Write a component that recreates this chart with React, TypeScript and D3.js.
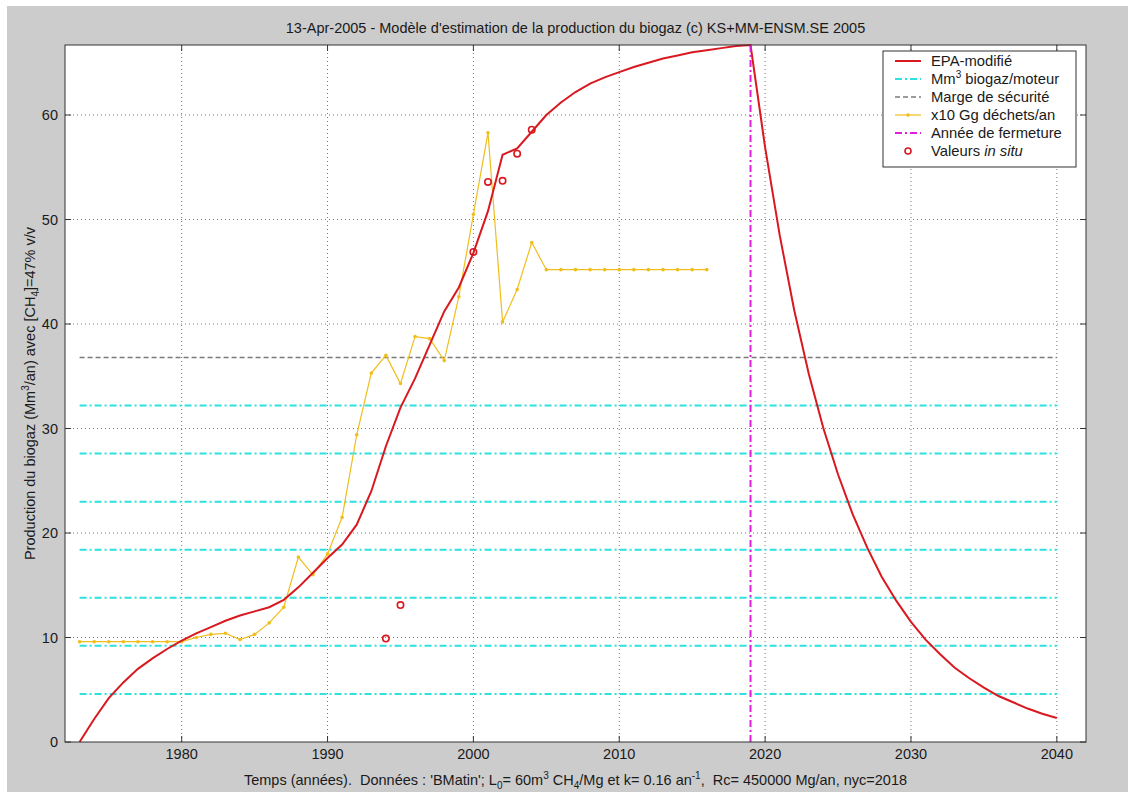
import React from "react";
import * as d3 from "d3";

const years = d3.range(1973, 2041);
const epaValues = [
  0, 2.2, 4.2, 5.7, 7.0, 8.0, 8.9, 9.7, 10.4, 11.0, 11.6, 12.1, 12.5, 12.9, 13.6, 14.8, 16.2, 17.6,
  18.9, 20.8, 24.0, 28.3, 32.0, 34.8, 38.0, 41.2, 43.5, 46.8, 50.8, 56.2, 56.8, 58.4, 60.0, 61.2,
  62.2, 63.0, 63.6, 64.1, 64.6, 65.0, 65.4, 65.7, 66.0, 66.2, 66.4, 66.6, 66.7, 56.9, 48.5, 41.3,
  35.2, 30.0, 25.6, 21.8, 18.6, 15.8, 13.5, 11.5, 9.8, 8.4, 7.1, 6.1, 5.2, 4.4, 3.8, 3.2, 2.7, 2.3,
];

const wasteYears = d3.range(1973, 2017);
const wasteValues = [
  9.6, 9.6, 9.6, 9.6, 9.6, 9.6, 9.6, 9.6, 10.0, 10.3, 10.4, 9.8, 10.3, 11.4, 12.9, 17.7, 16.0, 18.0,
  21.5, 29.4, 35.3, 37.0, 34.3, 38.8, 38.6, 36.5, 42.6, 50.5, 58.3, 40.2, 43.3, 47.8, 45.2, 45.2,
  45.2, 45.2, 45.2, 45.2, 45.2, 45.2, 45.2, 45.2, 45.2, 45.2,
];

const engineLevels = [4.6, 9.2, 13.8, 18.4, 23.0, 27.6, 32.2];
const safetyMargin = 36.8;
const closureYear = 2019;

const insituYears = [1994, 1995, 2000, 2001, 2002, 2003, 2004];
const insituValues = [9.9, 13.1, 46.9, 53.6, 53.7, 56.3, 58.6];

const xTicks = [1980, 1990, 2000, 2010, 2020, 2030, 2040];
const yTicks = [0, 10, 20, 30, 40, 50, 60];

const FONT = "'Liberation Sans', Arial, Helvetica, sans-serif";

export default function App() {
  const L = 65, R = 1086, T = 45, B = 742;
  const x = d3.scaleLinear().domain([1972, 2042]).range([L, R]);
  const y = d3.scaleLinear().domain([0, 66.7]).range([B, T]);

  const epaLine = d3.line<number>().x((_, i) => x(years[i])).y((d) => y(d))(epaValues) || "";
  const wasteLine = d3.line<number>().x((_, i) => x(wasteYears[i])).y((d) => y(d))(wasteValues) || "";

  const red = "#d9181f";
  const cyan = "#2ee0e0";
  const yellow = "#f0be1c";
  const magenta = "#e020d8";
  const grayDash = "#7a7a7a";

  const lx = 883, ly = 51, lw = 193, lh = 116;
  const rowY = [61, 79, 97, 115, 133, 151];
  const sx1 = 895, sx2 = 921, tx = 931;
  const FS = 14.5;
  const SUB = 10;

  return (
    <svg
      width={1134}
      height={792}
      style={{ position: "absolute", left: 0, top: 0, fontFamily: FONT }}
    >
      <rect x={0} y={0} width={1134} height={792} fill="#ffffff" />
      <rect x={7} y={6} width={1121} height={786} fill="#cccccc" />
      <rect x={L} y={T} width={R - L} height={B - T} fill="#ffffff" />

      {/* grid */}
      {xTicks.map((t) => (
        <line key={"gx" + t} x1={x(t)} x2={x(t)} y1={T} y2={B} stroke="#777777" strokeWidth={1} strokeDasharray="1,3" />
      ))}
      {yTicks.filter((t) => t > 0).map((t) => (
        <line key={"gy" + t} x1={L} x2={R} y1={y(t)} y2={y(t)} stroke="#777777" strokeWidth={1} strokeDasharray="1,3" />
      ))}

      {/* engine capacity lines */}
      {engineLevels.map((v) => (
        <line key={"c" + v} x1={x(1973)} x2={x(2040)} y1={y(v)} y2={y(v)} stroke={cyan} strokeWidth={2} strokeDasharray="7,3,2,3" />
      ))}
      {/* safety margin */}
      <line x1={x(1973)} x2={x(2040)} y1={y(safetyMargin)} y2={y(safetyMargin)} stroke={grayDash} strokeWidth={1.5} strokeDasharray="5,3" />

      {/* waste */}
      <path d={wasteLine} fill="none" stroke={yellow} strokeWidth={1.2} />
      {wasteValues.map((v, i) => (
        <circle key={"w" + i} cx={x(wasteYears[i])} cy={y(v)} r={1.8} fill={yellow} />
      ))}

      {/* EPA curve */}
      <path d={epaLine} fill="none" stroke={red} strokeWidth={2} />

      {/* closure */}
      <line x1={x(closureYear)} x2={x(closureYear)} y1={y(0)} y2={y(66.7)} stroke={magenta} strokeWidth={2} strokeDasharray="7,3,2,3" />

      {/* in situ */}
      {insituValues.map((v, i) => (
        <circle key={"s" + i} cx={x(insituYears[i])} cy={y(v)} r={3.2} fill="none" stroke={red} strokeWidth={1.6} />
      ))}

      {/* axes box */}
      <rect x={L} y={T} width={R - L} height={B - T} fill="none" stroke="#333333" strokeWidth={1} />
      {xTicks.map((t) => (
        <g key={"tx" + t}>
          <line x1={x(t)} x2={x(t)} y1={B} y2={B - 6} stroke="#333" />
          <line x1={x(t)} x2={x(t)} y1={T} y2={T + 6} stroke="#333" />
          <text x={x(t)} y={759} fontSize={FS} textAnchor="middle" fill="#1a1a1a">{t}</text>
        </g>
      ))}
      {yTicks.map((t) => (
        <g key={"ty" + t}>
          <line x1={L} x2={L + 6} y1={y(t)} y2={y(t)} stroke="#333" />
          <line x1={R} x2={R - 6} y1={y(t)} y2={y(t)} stroke="#333" />
          <text x={58} y={y(t) + 5} fontSize={FS} textAnchor="end" fill="#1a1a1a">{t}</text>
        </g>
      ))}

      {/* title */}
      <text x={(L + R) / 2} y={33} fontSize={FS} textAnchor="middle" fill="#1a1a1a">
        13-Apr-2005 - Modèle d'estimation de la production du biogaz (c) KS+MM-ENSM.SE 2005
      </text>

      {/* x label */}
      <text x={(L + R) / 2} y={785} fontSize={FS} textAnchor="middle" fill="#1a1a1a" xmlSpace="preserve" style={{ whiteSpace: "pre" }}>
        {"Temps (années).  Données : 'BMatin'; L"}<tspan fontSize={SUB} dy={4}>0</tspan><tspan dy={-4}>= 60m</tspan><tspan fontSize={SUB} dy={-6}>3</tspan><tspan dy={6}> CH</tspan><tspan fontSize={SUB} dy={4}>4</tspan><tspan dy={-4}>/Mg et k= 0.16 an</tspan><tspan fontSize={SUB} dy={-6}>-1</tspan><tspan dy={6}>{",  Rc= 450000 Mg/an, nyc=2018"}</tspan>
      </text>

      {/* y label */}
      <text transform={`translate(35, ${(T + B) / 2}) rotate(-90)`} fontSize={FS} textAnchor="middle" fill="#1a1a1a">
        Production du biogaz (Mm<tspan fontSize={SUB} dy={-6}>3</tspan><tspan dy={6}>/an) avec [CH</tspan><tspan fontSize={SUB} dy={4}>4</tspan><tspan dy={-4}>]=47% v/v</tspan>
      </text>

      {/* legend */}
      <rect x={lx} y={ly} width={lw} height={lh} fill="#ffffff" stroke="#333333" strokeWidth={1} />
      <line x1={sx1} x2={sx2} y1={rowY[0]} y2={rowY[0]} stroke={red} strokeWidth={2} />
      <line x1={sx1} x2={sx2} y1={rowY[1]} y2={rowY[1]} stroke={cyan} strokeWidth={2} strokeDasharray="7,3,2,3" />
      <line x1={sx1} x2={sx2} y1={rowY[2]} y2={rowY[2]} stroke={grayDash} strokeWidth={1.5} strokeDasharray="5,3" />
      <line x1={sx1} x2={sx2} y1={rowY[3]} y2={rowY[3]} stroke={yellow} strokeWidth={1.2} />
      <circle cx={(sx1 + sx2) / 2} cy={rowY[3]} r={1.8} fill={yellow} />
      <line x1={sx1} x2={sx2} y1={rowY[4]} y2={rowY[4]} stroke={magenta} strokeWidth={2} strokeDasharray="7,3,2,3" />
      <circle cx={(sx1 + sx2) / 2} cy={rowY[5]} r={3} fill="none" stroke={red} strokeWidth={1.6} />
      <g fontSize={14.8} fill="#1a1a1a">
        <text x={tx} y={rowY[0] + 5}>EPA-modifié</text>
        <text x={tx} y={rowY[1] + 5}>Mm<tspan fontSize={SUB} dy={-6}>3</tspan><tspan dy={6}> biogaz/moteur</tspan></text>
        <text x={tx} y={rowY[2] + 5}>Marge de sécurité</text>
        <text x={tx} y={rowY[3] + 5}>x10 Gg déchets/an</text>
        <text x={tx} y={rowY[4] + 5}>Année de fermeture</text>
        <text x={tx} y={rowY[5] + 5}>Valeurs <tspan fontStyle="italic">in situ</tspan></text>
      </g>
    </svg>
  );
}
